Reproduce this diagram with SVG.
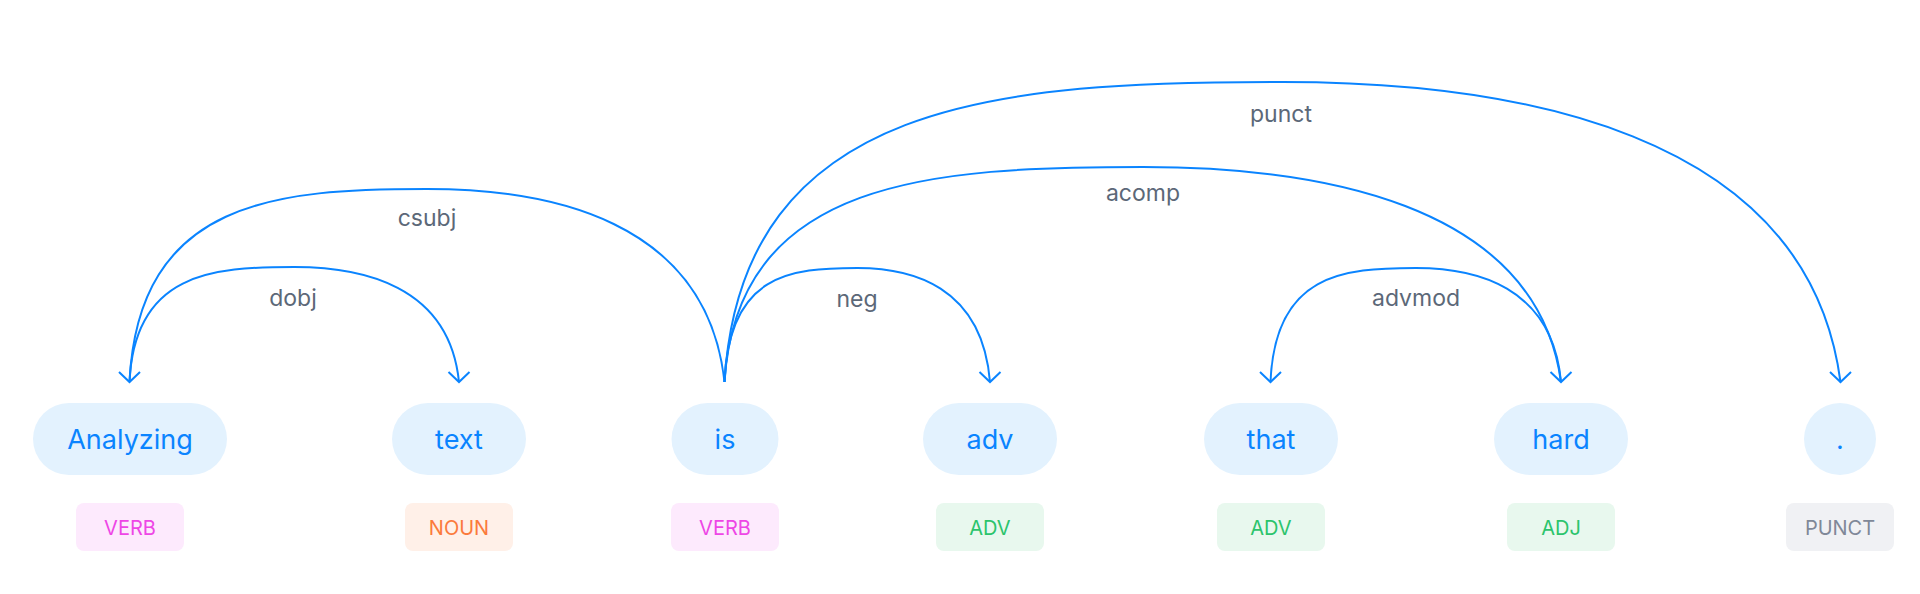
<svg xmlns="http://www.w3.org/2000/svg" width="1920" height="594" viewBox="0 0 1920 594">
<style>
.pill{fill:#e3f2fe}
.word{font-family:Inter,"Noto Sans",sans-serif;font-size:27px;fill:#0a84ff;text-anchor:middle}
.tag{font-family:Inter,"Noto Sans",sans-serif;font-size:20px;text-anchor:middle}
.lbl{font-family:Inter,"Noto Sans",sans-serif;font-size:23px;fill:#5c6878;text-anchor:middle}
.arc{fill:none;stroke:#0a84ff;stroke-width:2}
.verb rect{fill:#fdeafd}.verb text{fill:#ee46e6}
.noun rect{fill:#fff0e8}.noun text{fill:#fb7a3c}
.adv rect{fill:#e8f8ee}.adv text{fill:#2cc46c}
.punct rect{fill:#f0f1f4}.punct text{fill:#7f8898}
</style>
<defs>
<marker id="arrow" markerUnits="userSpaceOnUse" viewBox="-12 -12 24 14" refX="0" refY="0" markerWidth="24" markerHeight="14" orient="0" overflow="visible">
<path d="M-10.5,-10 L0,0 L10.5,-10" fill="none" stroke="#0a84ff" stroke-width="2"/>
</marker>
</defs>
<rect width="1920" height="594" fill="#ffffff"/>
<g id="connectors">
<g id="e-dobj"><path class="arc" marker-end="url(#arrow)" d="M129.5,382 C134.4,272.8 211.9,267 294.25,267 C360.2,267 449.1,284.3 459,382"/><text class="lbl" x="293" y="306">dobj</text></g>
<g id="e-csubj"><path class="arc" marker-end="url(#arrow)" d="M724.5,382 C706.7,218 546,189 427,189 C278.3,189 138.4,198.7 129.5,382"/><text class="lbl" x="427" y="226">csubj</text></g>
<g id="e-neg"><path class="arc" marker-end="url(#arrow)" d="M724.5,382 C728.5,273.7 790.9,268 857.25,268 C910.4,268 982,285.1 990,382"/><text class="lbl" x="857" y="307">neg</text></g>
<g id="e-acomp"><path class="arc" marker-end="url(#arrow)" d="M724.5,382 C737.1,177.8 933.6,167 1142.75,167 C1310.1,167 1535.9,199.3 1561,382"/><text class="lbl" x="1143" y="201">acomp</text></g>
<g id="e-advmod"><path class="arc" marker-end="url(#arrow)" d="M1561,382 C1552.3,285.1 1473.9,268 1415.75,268 C1343.2,268 1274.9,273.7 1270.5,382"/><text class="lbl" x="1416" y="306">advmod</text></g>
<g id="e-punct"><path class="arc" marker-end="url(#arrow)" d="M724.5,382 C741.2,97 1003.5,82 1282.5,82 C1505.7,82 1807,127 1840.5,382"/><text class="lbl" x="1281" y="122">punct</text></g>
</g>
<g id="n-analyzing"><rect class="pill" x="33" y="403" width="194" height="72" rx="36"/><text class="word" x="130" y="449">Analyzing</text><g class="verb"><rect x="76" y="503" width="108" height="48" rx="8"/><text class="tag" x="130" y="534.5">VERB</text></g></g>
<g id="n-text"><rect class="pill" x="392" y="403" width="134" height="72" rx="36"/><text class="word" x="459" y="449">text</text><g class="noun"><rect x="405" y="503" width="108" height="48" rx="8"/><text class="tag" x="459" y="534.5">NOUN</text></g></g>
<g id="n-is"><rect class="pill" x="671.5" y="403" width="107" height="72" rx="36"/><text class="word" x="725" y="449">is</text><g class="verb"><rect x="671" y="503" width="108" height="48" rx="8"/><text class="tag" x="725" y="534.5">VERB</text></g></g>
<g id="n-adv"><rect class="pill" x="923" y="403" width="134" height="72" rx="36"/><text class="word" x="990" y="449">adv</text><g class="adv"><rect x="936" y="503" width="108" height="48" rx="8"/><text class="tag" x="990" y="534.5">ADV</text></g></g>
<g id="n-that"><rect class="pill" x="1204" y="403" width="134" height="72" rx="36"/><text class="word" x="1271" y="449">that</text><g class="adv"><rect x="1217" y="503" width="108" height="48" rx="8"/><text class="tag" x="1271" y="534.5">ADV</text></g></g>
<g id="n-hard"><rect class="pill" x="1494" y="403" width="134" height="72" rx="36"/><text class="word" x="1561" y="449">hard</text><g class="adv"><rect x="1507" y="503" width="108" height="48" rx="8"/><text class="tag" x="1561" y="534.5">ADJ</text></g></g>
<g id="n-period"><rect class="pill" x="1804" y="403" width="72" height="72" rx="36"/><text class="word" x="1840" y="449">.</text><g class="punct"><rect x="1786" y="503" width="108" height="48" rx="8"/><text class="tag" x="1840" y="534.5">PUNCT</text></g></g>
</svg>
